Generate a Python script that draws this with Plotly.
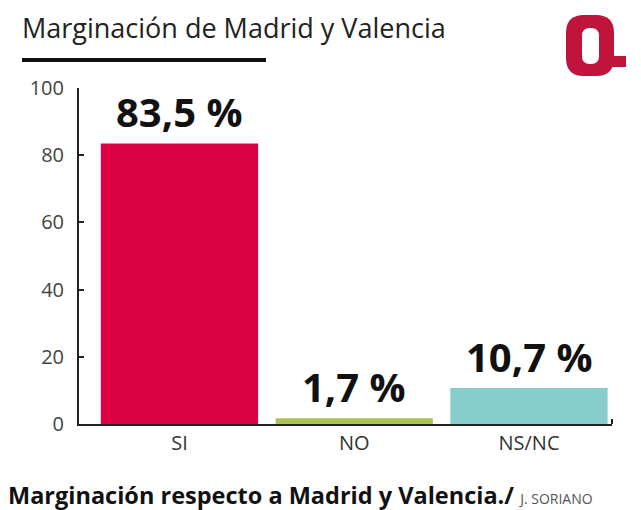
import plotly.graph_objects as go

categories = ["SI", "NO", "NS/NC"]
values = [83.5, 1.7, 10.7]
value_labels = ["83,5 %", "1,7 %", "10,7 %"]
bar_colors = ["#dc0045", "#a9c450", "#87cdcc"]
y_ticks = [0, 20, 40, 60, 80, 100]

W, H = 641, 510
L, R, T, B = 79, 29, 88, 86
PW, PH = W - L - R, H - T - B

def px(x):
    return (x - L) / PW

def py(y):
    return (H - B - y) / PH

fig = go.Figure()
fig.add_trace(go.Bar(
    x=categories, y=values, marker=dict(color=bar_colors, line=dict(width=0)),
    width=0.9, showlegend=False, hoverinfo="skip",
))

for c, v, t in zip(categories, values, value_labels):
    fig.add_annotation(x=c, y=v, text=f"<b>{t}</b>", showarrow=False, yanchor="bottom",
                       yshift=2, font=dict(family="Open Sans", size=40, color="#111111"))

ann_font = "Open Sans"
fig.add_annotation(xref="paper", yref="paper", x=px(20), y=py(28), xanchor="left", yanchor="middle",
                   text="Marginación de Madrid y Valencia", showarrow=False,
                   font=dict(family=ann_font, size=27, color="#222222"))
fig.add_annotation(xref="paper", yref="paper", x=px(6), y=py(495), xanchor="left", yanchor="middle",
                   text="<b>Marginación respecto a Madrid y Valencia./</b> <span style='font-size:14px;color:#555555'>J. SORIANO</span>",
                   showarrow=False, font=dict(family=ann_font, size=23.5, color="#111111"))

# title underline
fig.add_shape(type="line", xref="paper", yref="paper", x0=px(22), x1=px(266), y0=py(60), y1=py(60),
              line=dict(color="#111111", width=4))
# right end tick on x axis
fig.add_shape(type="line", xref="paper", yref="paper", x0=px(612), x1=px(612), y0=py(424), y1=py(419),
              line=dict(color="#222222", width=2))

# logo
red = "#c0143c"
def rrect(x0, y0, x1, y1, r):
    return (f"M {px(x0+r)},{py(y0)} L {px(x1-r)},{py(y0)} Q {px(x1)},{py(y0)} {px(x1)},{py(y0+r)} "
            f"L {px(x1)},{py(y1-r)} Q {px(x1)},{py(y1)} {px(x1-r)},{py(y1)} L {px(x0+r)},{py(y1)} "
            f"Q {px(x0)},{py(y1)} {px(x0)},{py(y1-r)} L {px(x0)},{py(y0+r)} Q {px(x0)},{py(y0)} {px(x0+r)},{py(y0)} Z")
fig.add_shape(type="path", xref="paper", yref="paper", path=rrect(566, 15, 614, 76, 18),
              fillcolor=red, line=dict(width=0))
fig.add_shape(type="path", xref="paper", yref="paper", path=rrect(582, 28, 599, 64, 8),
              fillcolor="white", line=dict(width=0))
fig.add_shape(type="rect", xref="paper", yref="paper", x0=px(604), x1=px(626), y0=py(56), y1=py(67),
              fillcolor=red, line=dict(width=0))

fig.update_layout(
    width=W, height=H, margin=dict(l=L, r=R, t=T, b=B),
    paper_bgcolor="white", plot_bgcolor="white",
    xaxis=dict(range=[-0.575, 2.475], showline=True, linecolor="#222222", linewidth=2,
               ticks="", showgrid=False, zeroline=False,
               tickfont=dict(family="Open Sans", size=20, color="#333333")),
    yaxis=dict(range=[0, 100], tickvals=y_ticks, showline=True, linecolor="#222222", linewidth=2,
               ticks="inside", ticklen=5, tickwidth=2, tickcolor="#222222", showgrid=False, zeroline=False,
               ticklabelstandoff=9,
               tickfont=dict(family="Open Sans", size=20, color="#444444")),
    bargap=0.1,
)

fig.write_html("out.html")
